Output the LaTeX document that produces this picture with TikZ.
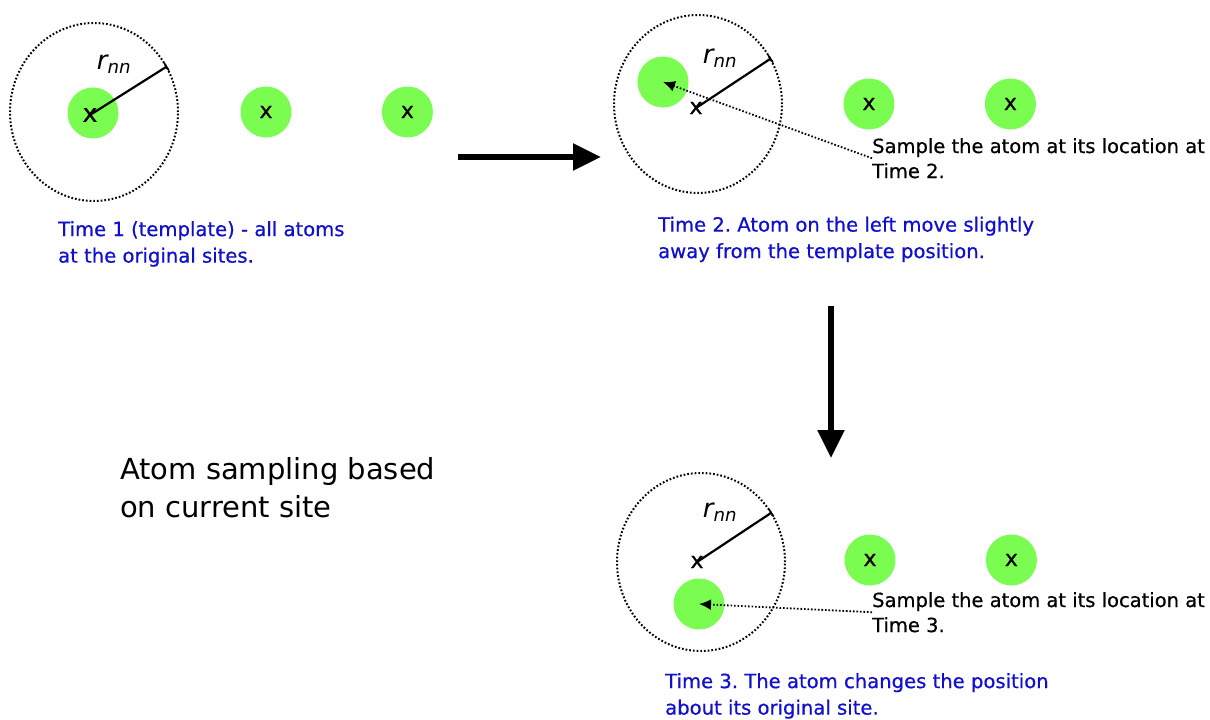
\documentclass[tikz,border=0pt]{standalone}
\usepackage{fontspec}
\setmainfont{DejaVu Sans}
\newfontfamily\heavyfont{DejaVu Sans}[FakeBold=0.6]
\usetikzlibrary{arrows.meta, shapes.geometric, positioning}
\definecolor{atomgreen}{RGB}{122,252,80}
\definecolor{capblue}{RGB}{15,15,205}
\frenchspacing

\begin{document}
\begin{tikzpicture}[x=1pt, y=-1pt,
        atom/.style={circle, fill=atomgreen, minimum size=51pt, inner sep=0pt},
        site/.style={inner sep=0pt, text height=12pt, text depth=0pt, font=\fontsize{22}{22}\heavyfont},
        ring/.style={ellipse, draw, line width=2pt, dash pattern=on 1.7pt off 2pt, minimum width=168pt, minimum height=178pt, inner sep=0pt},
        radius/.style={line width=2.2pt, -{Bar[width=9pt, line width=1.6pt]}},
        rlabel/.style={inner sep=0pt, font=\fontsize{26}{26}\selectfont\itshape},
        caption/.style={anchor=north west, inner sep=0pt, align=left, text=capblue, font=\fontsize{19.6}{26.5}\heavyfont},
        note/.style={anchor=north west, inner sep=0pt, align=left, font=\fontsize{19.5}{25}\heavyfont},
        sample/.style={line width=1.8pt, dash pattern=on 1.6pt off 1.9pt, -{Latex[length=12pt, width=11pt]}},
        bigarrow/.style={line width=5.5pt, -{Triangle[length=28pt, width=26pt]}}]
        \useasboundingbox (0,0) rectangle (1210,720);

        % time 1
        \node[ring] (ring1) at (94,112) {};
        \node[atom] (a11) at (93,113) {};
        \node[atom] (a12) at (266,112) {};
        \node[atom, right=90pt of a12] (a13) {};
        \node[site, font=\fontsize{25}{25}\heavyfont, text height=13.5pt] (s11) at (90,115) {x};
        \node[site] (s12) at (a12) {x};
        \node[site] (s13) at (a13) {x};
        \draw[radius] (s11.center) -- (ring1.32);
        \node[rlabel] (r1) at (114,64) {r\textsubscript{nn}};
        \node[caption] (cap1) at (58,221) {Time 1 (template) - all atoms\\at the original sites.};

        \coordinate (h1) at (458,157);
        \coordinate (h2) at (601,157);
        \draw[bigarrow] (h1) -- (h2);

        % time 2
        \node[ring] (ring2) at (698,104) {};
        \node[atom] (a21) at (663,82) {};
        \node[atom] (a22) at (869,104) {};
        \node[atom, right=90pt of a22] (a23) {};
        \node[site] (s21) at (696,108) {x};
        \node[site] (s22) at (a22) {x};
        \node[site] (s23) at (a23) {x};
        \draw[radius] (s21.center) -- (ring2.32);
        \node[rlabel] (r2) at (720,58) {r\textsubscript{nn}};
        \node[note] (note2) at (872,138) {Sample the atom at its location at\\Time 2.};
        \draw[sample] (note2.west) -- (a21.center);
        \node[caption] (cap2) at (658,216.5) {Time 2. Atom on the left move slightly\\away from the template position.};

        \coordinate (v1) at (831,306);
        \coordinate (v2) at (831,458);
        \draw[bigarrow] (v1) -- (v2);

        \node[anchor=north west, inner sep=0pt, align=left, font=\fontsize{29}{38}\selectfont] (title) at (120,457) {Atom sampling based\\on current site};

        % time 3
        \node[ring] (ring3) at (701,562) {};
        \node[atom] (a31) at (699,604) {};
        \node[atom] (a32) at (870,560) {};
        \node[atom, right=90pt of a32] (a33) {};
        \node[site] (s31) at (697,562) {x};
        \node[site] (s32) at (a32) {x};
        \node[site] (s33) at (a33) {x};
        \draw[radius] (s31.center) -- (ring3.35);
        \node[rlabel] (r3) at (720,512) {r\textsubscript{nn}};
        \node[note] (note3) at (872,592) {Sample the atom at its location at\\Time 3.};
        \draw[sample] (note3.west) -- (a31.center);
        \node[caption] (cap3) at (665,673) {Time 3. The atom changes the position\\about its original site.};
\end{tikzpicture}
\end{document}
